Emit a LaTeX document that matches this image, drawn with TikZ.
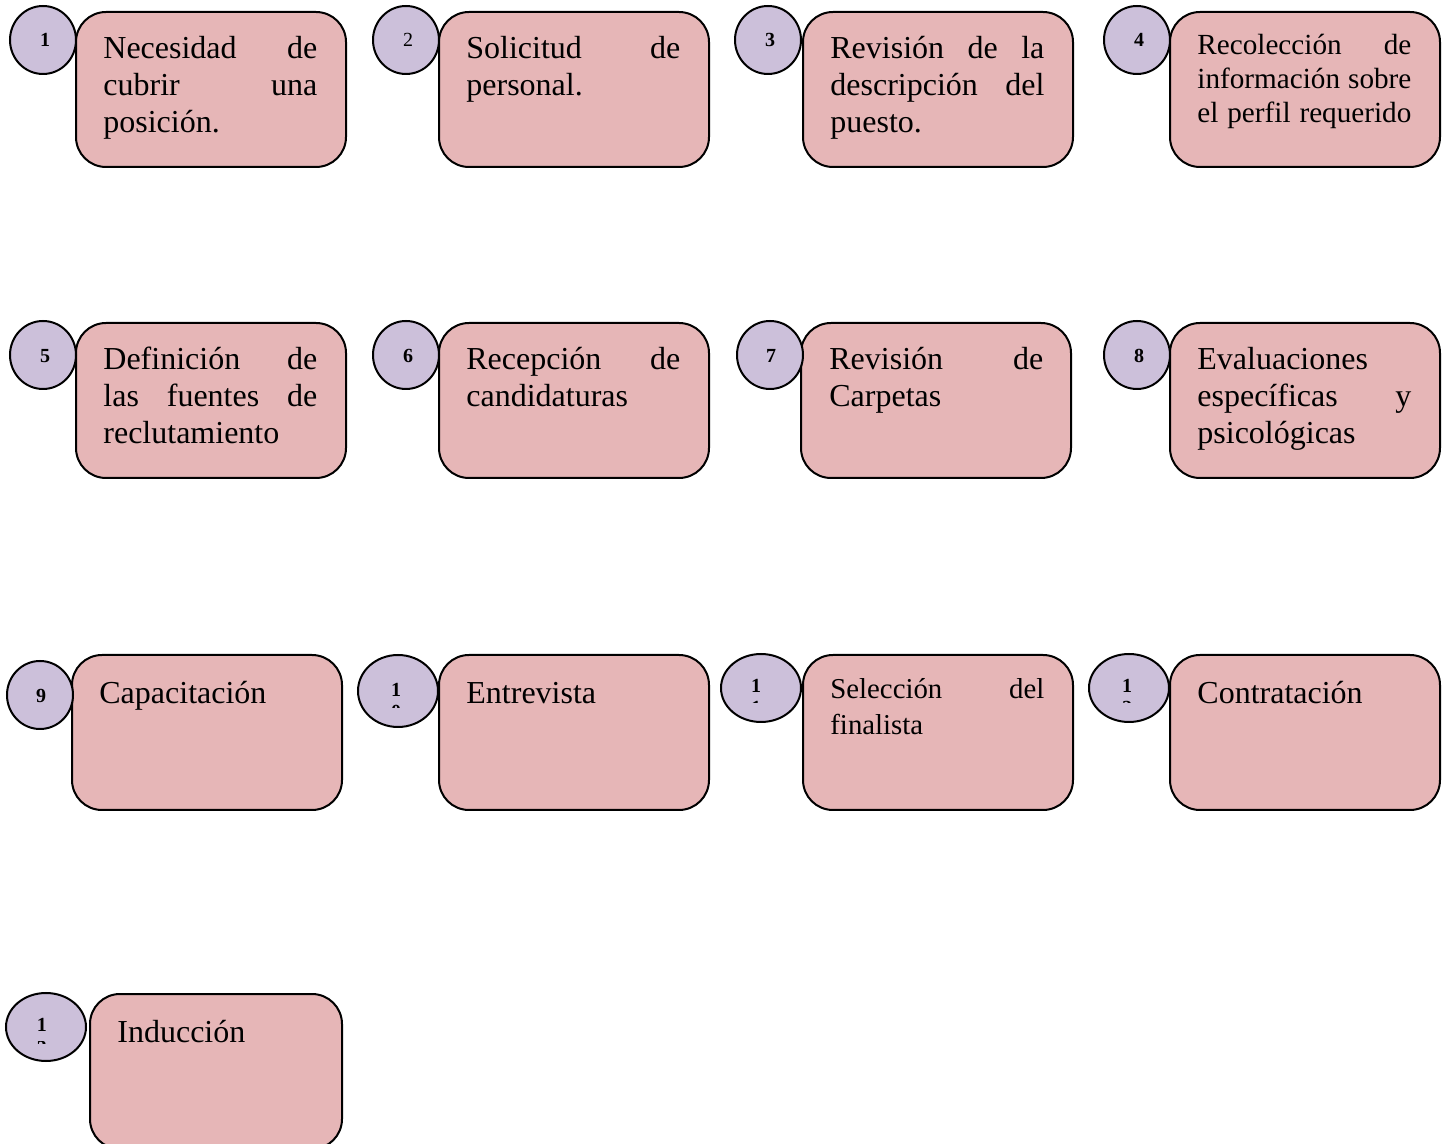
\documentclass[tikz,border=0pt]{standalone}
\usepackage{fontspec}
\setmainfont{Liberation Serif}
\usetikzlibrary{shapes.geometric}
\definecolor{boxpink}{RGB}{230,182,183}
\definecolor{circlav}{RGB}{204,192,218}
\begin{document}
\begin{tikzpicture}[x=0.5pt,y=-0.5pt,
  stepbox/.style={draw=black, line width=1pt, fill=boxpink, rounded corners=15pt, rectangle, anchor=north west, minimum width=135pt, minimum height=77.5pt, inner sep=0pt},
  numcirc/.style={draw=black, line width=1pt, fill=circlav, ellipse, inner sep=0pt, minimum width=33pt, minimum height=34pt},
  wideell/.style={numcirc, minimum width=40pt, minimum height=34pt},
  numtxt/.style={font=\fontsize{10}{11}\selectfont\bfseries, inner sep=0pt},
  txt/.style={font=\fontsize{16}{18.5}\selectfont, text width=107pt, align=left, inner sep=0pt, anchor=base west},
  smalltxt/.style={txt, font=\fontsize{14.6}{17}\selectfont},
  midtxt/.style={txt, font=\fontsize{14.4}{18}\selectfont}]
\clip (0,0) rectangle (1448,1144);
\fill[white] (0,0) rectangle (1448,1144);

% Row 1
\node[stepbox] (b1) at (75,11) {};
\node[stepbox] (b2) at (438,11) {};
\node[stepbox] (b3) at (802,11) {};
\node[stepbox] (b4) at (1169,11) {};
\node[txt] (t1) at (103,59) {Necesidad\hfill de\\cubrir\hfill una\\posición.};
\node[txt] (t2) at (466,59) {Solicitud\hfill de\\personal.};
\node[txt] (t3) at (830,59) {Revisión\hfill de\hfill la\\descripción\hfill del\\puesto.};
\node[smalltxt] (t4) at (1197,55) {Recolección\hfill de\\información\hfill sobre\\el\hfill perfil\hfill requerido};
\node[numcirc] (c1) at (43,40) {};
\node[numcirc] (c2) at (406,40) {};
\node[numcirc] (c3) at (768,40) {};
\node[numcirc] (c4) at (1137,40) {};
\node[numtxt] (n1) at (45,40) {1};
\node[numtxt, font=\fontsize{10}{11}\selectfont] (n2) at (408,40) {2};
\node[numtxt] (n3) at (770,40) {3};
\node[numtxt] (n4) at (1139,40) {4};

% Row 2
\node[stepbox] (b5) at (75,322) {};
\node[stepbox] (b6) at (438,322) {};
\node[stepbox] (b7) at (800,322) {};
\node[stepbox] (b8) at (1169,322) {};
\node[txt] (t5) at (103,370) {Definición\hfill de\\las\hfill fuentes\hfill de\\reclutamiento};
\node[txt] (t6) at (466,370) {Recepción\hfill de\\candidaturas};
\node[txt] (t7) at (829,370) {Revisión\hfill de\\Carpetas};
\node[txt] (t8) at (1197,370) {Evaluaciones\\específicas\hfill y\\psicológicas};
\node[numcirc] (c5) at (43,355) {};
\node[numcirc] (c6) at (406,355) {};
\node[numcirc] (c7) at (770,355) {};
\node[numcirc] (c8) at (1137,355) {};
\node[numtxt] (n5) at (45,356) {5};
\node[numtxt] (n6) at (408,356) {6};
\node[numtxt] (n7) at (771,356) {7};
\node[numtxt] (n8) at (1139,356) {8};

% Row 3
\node[stepbox] (b9) at (71,654) {};
\node[stepbox] (b10) at (438,654) {};
\node[stepbox] (b11) at (802,654) {};
\node[stepbox] (b12) at (1169,654) {};
\node[txt] (t9) at (99,704) {Capacitación};
\node[txt] (t10) at (466,704) {Entrevista};
\node[midtxt] (t11) at (830,699) {Selección\hfill del\\finalista};
\node[txt] (t12) at (1197,704) {Contratación};
\node[numcirc] (c9) at (40,695) {};
\node[wideell, minimum height=36pt] (c10) at (398,691) {};
\node[wideell] (c11) at (761,688) {};
\node[wideell] (c12) at (1129,688) {};
\node[numtxt] (n9) at (41,696) {9};
\node[numtxt] (n10) at (396,690) {1};
\node[numtxt] (n11) at (756,686) {1};
\node[numtxt] (n12) at (1127,686) {1};
\begin{scope}
  \clip (380,705) rectangle (414,708);
  \node[numtxt, anchor=north] (n10b) at (396,705) {0};
\end{scope}
\begin{scope}
  \clip (740,701) rectangle (772,703);
  \node[numtxt, anchor=north] (n11b) at (756,701) {1};
\end{scope}
\begin{scope}
  \clip (1111,701) rectangle (1143,703);
  \node[numtxt, anchor=north] (n12b) at (1127,701) {2};
\end{scope}

% Row 4
\node[stepbox, minimum width=126pt] (b13) at (89,993) {};
\node[txt] (t13) at (117,1043) {Inducción};
\node[wideell] (c13) at (46,1027) {};
\node[numtxt] (n13) at (42,1025) {1};
\begin{scope}
  \clip (26,1041) rectangle (58,1043);
  \node[numtxt, anchor=north] (n13b) at (42,1041) {3};
\end{scope}
\end{tikzpicture}
\end{document}
